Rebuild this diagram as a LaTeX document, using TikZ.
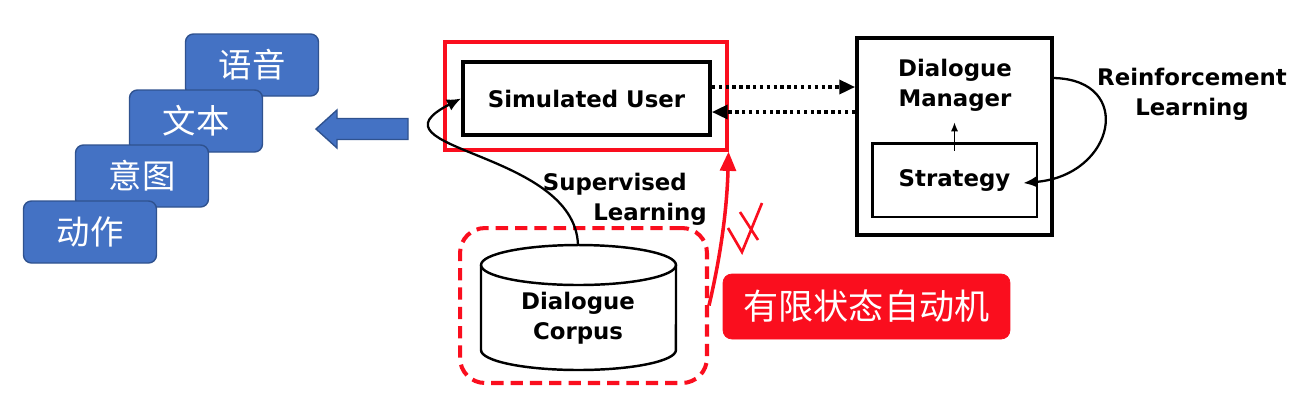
\documentclass[tikz,border=0pt]{standalone}
\usepackage{fontspec}
\setsansfont{DejaVu Sans}
\newfontfamily\cjk{Noto Sans CJK SC}
\usetikzlibrary{arrows.meta, positioning, calc}
\definecolor{stepBlue}{RGB}{68, 114, 196}
\definecolor{stepBlueEdge}{RGB}{47, 82, 143}
\definecolor{alertRed}{RGB}{250, 14, 30}

\begin{document}
\begin{tikzpicture}[x=0.02cm, y=-0.02cm,
    stepbox/.style={rectangle, draw=stepBlueEdge, line width=0.8pt, fill=stepBlue, rounded corners=4.5pt, minimum width=2.66cm, minimum height=1.24cm, text=white, font=\cjk\fontsize{19}{22}\selectfont},
    block/.style={rectangle, draw, line width=2.2pt, align=center, font=\sffamily\bfseries\fontsize{13}{17}\selectfont},
    tag/.style={align=center, font=\sffamily\bfseries\fontsize{13}{17}\selectfont},
    flow/.style={-{Latex[length=8pt, width=7pt]}, line width=1.3pt},
    dotflow/.style={-{Triangle[length=9pt, width=8pt]}, line width=1.9pt, dotted},
    redframe/.style={rectangle, draw=alertRed, line width=1.8pt}
]
    \useasboundingbox (0,0) rectangle (1302,414);

    % Representation levels (back to front)
    \node[stepbox] (speech) at (252,65) {语音};
    \node[stepbox] (textual) at (196,121) {文本};
    \node[stepbox] (intent) at (142,176) {意图};
    \node[stepbox] (action) at (90,232) {动作};

    % Big arrow pointing back to the levels
    \draw[fill=stepBlue, draw=stepBlueEdge, line width=0.8pt] (408,118.5) -- (337,118.5) -- (337,110) -- (316,129) -- (337,148) -- (337,139.5) -- (408,139.5) -- cycle;

    % Simulated user (highlighted)
    \node[redframe, minimum width=5.64cm, minimum height=2.16cm] (userframe) at (586,96) {};
    \node[block, minimum width=4.94cm, minimum height=1.46cm] (user) at (586.5,98.5) {Simulated User};

    % Dialogue manager with its strategy
    \node[block, minimum width=3.9cm, minimum height=3.94cm] (manager) at (954.5,136.5) {};
    \node[tag] (managertext) at (955,85) {Dialogue\\Manager};
    \node[block, line width=1.7pt, minimum width=3.3cm, minimum height=1.48cm] (strategy) at (954.5,180) {Strategy};
    \draw[-{Latex[length=5pt, width=4pt]}, line width=0.6pt] ($(strategy.north)+(0,9)$) -- ($(strategy.north)+(0,-19)$);

    % Interaction between user and manager
    \draw[dotflow] ([yshift=0.23cm]user.east) -- ([yshift=0.23cm]user.east -| manager.west);
    \draw[dotflow] ([yshift=-0.27cm]user.east -| manager.west) -- ([yshift=-0.27cm]user.east);

    % Reinforcement learning loop
    \draw[flow] ([yshift=1.17cm]manager.east) .. controls (1135,80) and (1115,175) .. ($(strategy.east)+(-15,3)$);
    \node[tag] (rltext) at (1192,94) {Reinforcement\\Learning};

    % Dialogue corpus (dashed highlight)
    \node[draw=alertRed, line width=2.3pt, dash pattern=on 7pt off 4pt, rounded corners=0.5cm, minimum width=4.94cm, minimum height=3.1cm] (corpusframe) at (583.5,305.5) {};
    \draw[line width=1.4pt, fill=white] (481,265) -- (481,350) arc[start angle=180, end angle=360, x radius=1.95cm, y radius=0.4cm] -- (676,265);
    \draw[line width=1.4pt] (578.5,265) ellipse [x radius=1.95cm, y radius=0.4cm];
    \node[tag] (corpus) at (578,318) {Dialogue\\Corpus};
    \coordinate (corpustop) at (578,245);

    % Supervised learning
    \draw[flow] (corpustop) .. controls (575,150) and (360,150) .. (user.west);
    \node[tag, align=right, anchor=east] (sltext) at (713,199) {Supervised\hspace*{0.4cm}\\Learning};

    % Finite state machine note
    \draw[-{Triangle[length=11pt, width=9pt]}, alertRed, line width=2pt] (corpusframe.east) .. controls (722,250) and (727,205) .. (userframe.south east);
    \draw[alertRed, line width=1.5pt] (728,228) -- (742,252) -- (762,203) (740,212) -- (758,240);
    \node[draw=alertRed, fill=alertRed, rounded corners=5pt, minimum width=5.74cm, minimum height=1.3cm, text=white, font=\cjk\fontsize{20}{24}\selectfont] (fsm) at (866.5,306.5) {有限状态自动机};
\end{tikzpicture}
\end{document}
